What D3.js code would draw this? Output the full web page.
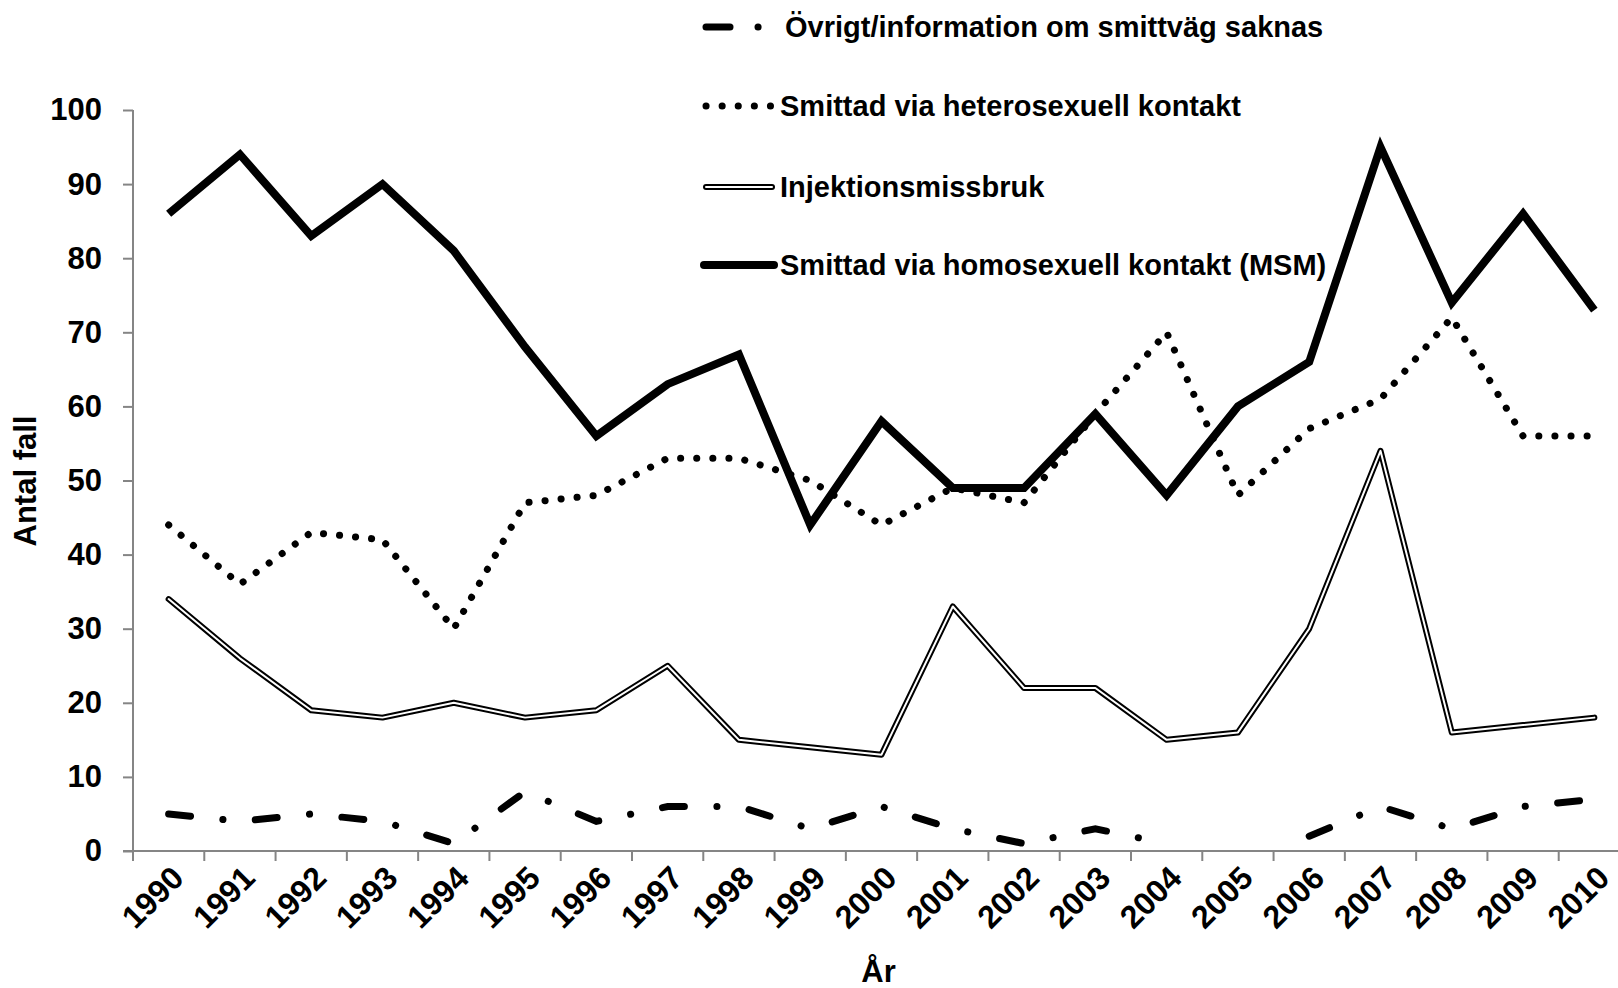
<!DOCTYPE html>
<html>
<head>
<meta charset="utf-8">
<script src="https://cdn.jsdelivr.net/npm/d3@7"></script>
<style>
  html, body { margin: 0; padding: 0; background: #fff; }
  svg { display: block; }
  text { font-family: "Liberation Sans", Arial, sans-serif; font-weight: bold; fill: #000; }
</style>
</head>
<body>
<div id="chart"></div>
<script>
(function () {
  'use strict';

  /* data */
  var years = ['1990', '1991', '1992', '1993', '1994', '1995', '1996', '1997', '1998', '1999', '2000',
               '2001', '2002', '2003', '2004', '2005', '2006', '2007', '2008', '2009', '2010'];
  var msm    = [86, 94, 83, 90, 81, 68, 56, 63, 67, 44, 58, 49, 49, 59, 48, 60, 66, 95, 74, 86, 73];
  var hetero = [44, 36, 43, 42, 30, 47, 48, 53, 53, 50, 44, 49, 47, 59, 70, 48, 57, 61, 72, 56, 56];
  var injekt = [34, 26, 19, 18, 20, 18, 19, 25, 15, 14, 13, 33, 22, 22, 15, 16, 30, 54, 16, 17, 18];
  var ovrigt = [5, 4, 5, 4, 1, 8, 4, 6, 6, 3, 6, 3, 1, 3, 1, null, 2, 6, 3, 6, 7];
  var yTicks = [0, 10, 20, 30, 40, 50, 60, 70, 80, 90, 100];

  var legendLabels = [
    'Övrigt/information om smittväg saknas',
    'Smittad via heterosexuell kontakt',
    'Injektionsmissbruk',
    'Smittad via homosexuell kontakt (MSM)'
  ];

  var W = 1618, H = 988;
  var left = 133, right = 1630, top = 110, bottom = 851;
  var axisColor = '#858585';

  var svg = d3.select('#chart').append('svg')
    .attr('width', W).attr('height', H);

  var x = d3.scaleBand().domain(years).range([left, right]).padding(0);
  var y = d3.scaleLinear().domain([0, 100]).range([bottom, top]);
  var cx = function (d, i) { return x(years[i]) + x.bandwidth() / 2; };

  /* y axis */
  var yAxis = svg.append('g')
    .attr('transform', 'translate(' + left + ',0)')
    .call(d3.axisLeft(y).tickValues(yTicks).tickSize(10).tickPadding(21));
  yAxis.select('.domain').attr('stroke', axisColor).attr('stroke-width', 2)
    .attr('d', 'M0,' + top + 'V' + bottom);
  yAxis.selectAll('.tick line').attr('stroke', axisColor).attr('stroke-width', 2);
  yAxis.selectAll('.tick text')
    .style('font-size', '31px').style('font-family', '"Liberation Sans", Arial, sans-serif')
    .style('font-weight', 'bold').attr('fill', '#000');

  /* x axis: line, ticks at band edges, rotated labels */
  var xg = svg.append('g');
  xg.append('line')
    .attr('x1', left - 10).attr('x2', W)
    .attr('y1', bottom).attr('y2', bottom)
    .attr('stroke', axisColor).attr('stroke-width', 2);
  xg.selectAll('.xtick')
    .data(years)
    .join('line')
    .attr('class', 'xtick')
    .attr('x1', function (d) { return x(d); }).attr('x2', function (d) { return x(d); })
    .attr('y1', bottom).attr('y2', bottom + 10)
    .attr('stroke', axisColor).attr('stroke-width', 2);
  xg.selectAll('.xlabel')
    .data(years)
    .join('text')
    .attr('class', 'xlabel')
    .attr('text-anchor', 'end')
    .style('font-size', '32px')
    .attr('transform', function (d) {
      return 'translate(' + (x(d) + x.bandwidth() / 2 + 17) + ',' + (bottom + 29) + ') rotate(-45)';
    })
    .text(function (d) { return d; });

  /* axis titles */
  svg.append('text')
    .attr('text-anchor', 'middle')
    .style('font-size', '31px')
    .attr('transform', 'translate(36,' + 481 + ') rotate(-90)')
    .text('Antal fall');
  svg.append('text')
    .attr('x', (left + right) / 2 - 3).attr('y', 982)
    .attr('text-anchor', 'middle')
    .style('font-size', '31px')
    .text('År');

  /* series */
  var line = d3.line()
    .defined(function (d) { return d != null; })
    .x(cx)
    .y(function (d) { return y(d); });

  var g = svg.append('g').attr('fill', 'none');

  // injektionsmissbruk: double line
  g.append('path').attr('d', line(injekt))
    .attr('stroke', '#000').attr('stroke-width', 6).attr('stroke-linejoin', 'round').attr('stroke-linecap', 'round');
  g.append('path').attr('d', line(injekt))
    .attr('stroke', '#fff').attr('stroke-width', 2).attr('stroke-linejoin', 'round').attr('stroke-linecap', 'round');

  // heterosexuell: round dots
  g.append('path').attr('d', line(hetero))
    .attr('stroke', '#000').attr('stroke-width', 7)
    .attr('stroke-linecap', 'round').attr('stroke-dasharray', '0.1 16');

  // övrigt: long dash dot
  g.append('path').attr('d', line(ovrigt))
    .attr('stroke', '#000').attr('stroke-width', 7)
    .attr('stroke-linecap', 'round').attr('stroke-dasharray', '22 32.5 0.1 32.5');

  // msm: thick solid
  g.append('path').attr('d', line(msm))
    .attr('stroke', '#000').attr('stroke-width', 8)
    .attr('stroke-linejoin', 'miter');

  /* legend */
  var legendY = [27, 106, 187, 265];
  var lg = svg.append('g');

  // row 1: dash + dot
  lg.append('line').attr('x1', 706).attr('x2', 730).attr('y1', legendY[0]).attr('y2', legendY[0])
    .attr('stroke', '#000').attr('stroke-width', 7).attr('stroke-linecap', 'round');
  lg.append('line').attr('x1', 758).attr('x2', 758.1).attr('y1', legendY[0]).attr('y2', legendY[0])
    .attr('stroke', '#000').attr('stroke-width', 7).attr('stroke-linecap', 'round');
  // row 2: dots
  lg.append('line').attr('x1', 706).attr('x2', 774).attr('y1', legendY[1]).attr('y2', legendY[1])
    .attr('stroke', '#000').attr('stroke-width', 7).attr('stroke-linecap', 'round')
    .attr('stroke-dasharray', '0.1 16');
  // row 3: double line
  lg.append('line').attr('x1', 706).attr('x2', 772).attr('y1', legendY[2]).attr('y2', legendY[2])
    .attr('stroke', '#000').attr('stroke-width', 6).attr('stroke-linecap', 'round');
  lg.append('line').attr('x1', 706).attr('x2', 772).attr('y1', legendY[2]).attr('y2', legendY[2])
    .attr('stroke', '#fff').attr('stroke-width', 2).attr('stroke-linecap', 'round');
  // row 4: thick solid
  lg.append('line').attr('x1', 704).attr('x2', 774).attr('y1', legendY[3]).attr('y2', legendY[3])
    .attr('stroke', '#000').attr('stroke-width', 8).attr('stroke-linecap', 'round');

  lg.selectAll('.ltext')
    .data(legendLabels)
    .join('text')
    .attr('class', 'ltext')
    .attr('x', function (d, i) { return i === 0 ? 785 : 780; })
    .attr('y', function (d, i) { return legendY[i] + 10; })
    .style('font-size', '29px')
    .text(function (d) { return d; });
})();
</script>
</body>
</html>
